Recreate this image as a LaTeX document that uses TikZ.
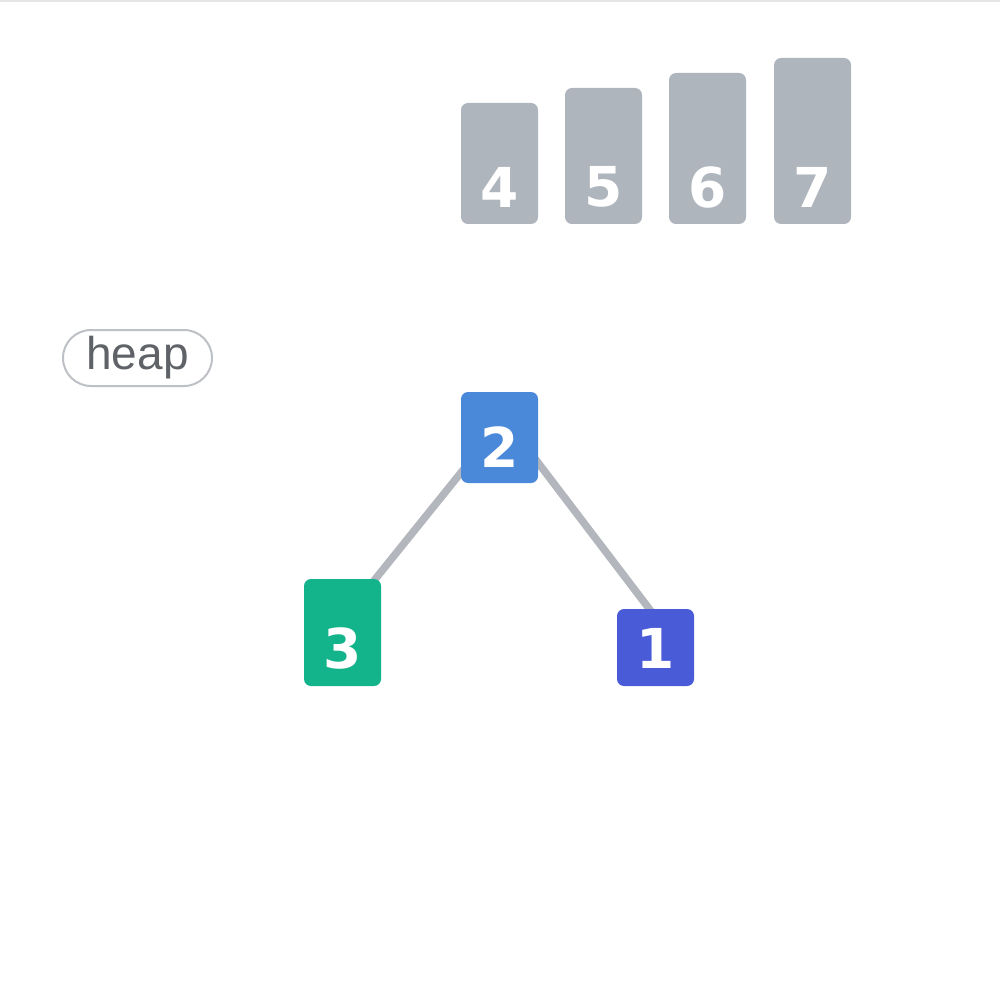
\documentclass[tikz,border=0pt]{standalone}
\usepackage{fontspec}
\setmainfont{Liberation Sans}
\newfontfamily\digitfont{DejaVu Sans}
\newfontfamily\pillfont{Liberation Sans}
\usetikzlibrary{backgrounds}
\definecolor{bargray}{HTML}{AFB5BC}
\definecolor{edgegray}{HTML}{B3B6BC}
\definecolor{pillgray}{HTML}{BDC0C5}
\definecolor{textgray}{HTML}{5F6368}
\definecolor{nodeblue}{HTML}{4A88DA}
\definecolor{nodegreen}{HTML}{13B38B}
\definecolor{nodeindigo}{HTML}{4A5BD8}
\definecolor{topline}{HTML}{E6E6E6}
\tikzset{
  card/.style={rectangle, rounded corners=7pt, minimum width=77pt, inner sep=0pt, draw=none},
  digit/.style={text=white, font=\digitfont\fontsize{55}{58}\selectfont\bfseries},
  edge/.style={draw=edgegray, line width=7.5pt},
  pill/.style={rectangle, rounded corners=28pt, draw=pillgray, line width=2pt, minimum width=149pt, minimum height=56pt, inner sep=0pt, text=textgray, font=\pillfont\fontsize{46}{50}\selectfont}
}
\begin{document}
\begin{tikzpicture}[x=1pt,y=-1pt]
\useasboundingbox (0,0) rectangle (1000,1000);
\draw[topline, line width=2pt] (0,1) -- (1000,1);
% bars
\node[card, fill=bargray, minimum height=121pt, label={[digit, anchor=center, yshift=37pt]south:4}] (b4) at (499.5,163.5) {};
\node[card, fill=bargray, minimum height=136pt, label={[digit, anchor=center, yshift=37pt]south:5}] (b5) at (603.5,156) {};
\node[card, fill=bargray, minimum height=151pt, label={[digit, anchor=center, yshift=37pt]south:6}] (b6) at (707.5,148.5) {};
\node[card, fill=bargray, minimum height=166pt, label={[digit, anchor=center, yshift=37pt]south:7}] (b7) at (812.5,141) {};
% heap label
\node[pill] (heap) at (137.5,358) {heap};
% tree nodes
\node[card, fill=nodeblue, minimum height=91pt, label={[digit, anchor=center, yshift=36pt]south:2}] (n2) at (499.5,437.5) {};
\node[card, fill=nodegreen, minimum height=107pt, label={[digit, anchor=center, yshift=38pt]south:3}] (n3) at (342.5,632.5) {};
\node[card, fill=nodeindigo, minimum height=77pt, label={[digit, anchor=center, yshift=38pt]south:1}] (n1) at (655.5,647.5) {};
% edges
\begin{pgfonlayer}{background}
\draw[edge] ([shift={(-19.5,11.5)}]n2.center) -- ([shift={(17.5,-34.5)}]n3.center);
\draw[edge] ([shift={(20.5,1.5)}]n2.center) -- ([shift={(4.5,-24.5)}]n1.center);
\end{pgfonlayer}
\end{tikzpicture}
\end{document}
